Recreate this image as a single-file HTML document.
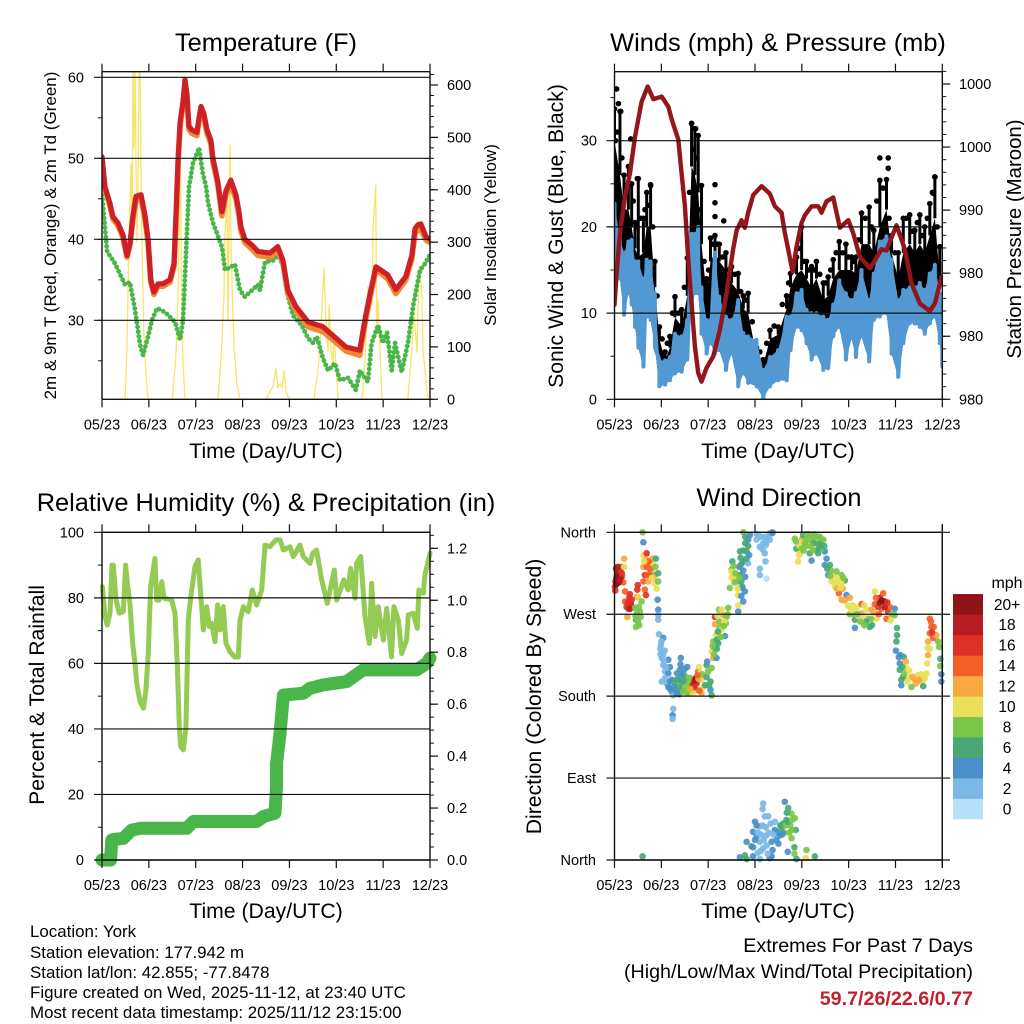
<!DOCTYPE html>
<html lang="en">
<head>
<meta charset="utf-8">
<title>York station chart</title>
<style>
html,body{margin:0;padding:0;background:#fff}
svg{display:block}
text{font-family:"Liberation Sans",Arial,sans-serif;fill:#000}
.title{font-size:25.4px;text-anchor:middle}
.axt{font-size:21.2px;text-anchor:middle}
.axs{font-size:17px;text-anchor:middle}
.tick{font-size:14.5px}
.info{font-size:16.9px}
.ext{font-size:19.7px;text-anchor:end}
</style>
</head>
<body>
<svg id="chart" xmlns="http://www.w3.org/2000/svg" width="1024" height="1024" viewBox="0 0 1024 1024">
<defs>
<clipPath id="clip-a"><rect x="102" y="71.7" width="328" height="327.6"/></clipPath>
<clipPath id="clip-b"><rect x="614.5" y="71.7" width="327.8" height="327.6"/></clipPath>
<clipPath id="clip-c"><rect x="86" y="532.3" width="360" height="342"/></clipPath>
<clipPath id="clip-d"><rect x="608" y="526" width="341" height="340"/></clipPath>
</defs>
<g id="panel-temp"></g>
<g id="panel-wind"></g>
<g id="panel-rh"></g>
<g id="panel-dir"></g>
<g id="colorbar"></g>

<text class="title" x="266" y="51">Temperature (F)</text>
<text class="title" x="778" y="51">Winds (mph) &amp; Pressure (mb)</text>
<text class="title" x="266" y="511">Relative Humidity (%) &amp; Precipitation (in)</text>
<text class="title" x="779" y="506">Wind Direction</text>

<text class="axt" x="266" y="458">Time (Day/UTC)</text>
<text class="axt" x="778" y="458">Time (Day/UTC)</text>
<text class="axt" x="266" y="918">Time (Day/UTC)</text>
<text class="axt" x="778" y="918">Time (Day/UTC)</text>

<text class="axs" transform="translate(56 235.5) rotate(-90)">2m &amp; 9m T (Red, Orange) &amp; 2m Td (Green)</text>
<text class="axs" transform="translate(496 235) rotate(-90)">Solar Insolation (Yellow)</text>
<text class="axt" transform="translate(563 236) rotate(-90)">Sonic Wind &amp; Gust (Blue, Black)</text>
<text class="axt" style="font-size:20.4px" transform="translate(1021 239) rotate(-90)">Station Pressure (Maroon)</text>
<text class="axt" transform="translate(44 695) rotate(-90)">Percent &amp; Total Rainfall</text>
<text class="axt" transform="translate(541 696.5) rotate(-90)">Direction (Colored By Speed)</text>

<text class="info" x="30" y="937">Location: York</text>
<text class="info" x="30" y="958">Station elevation: 177.942 m</text>
<text class="info" x="30" y="978">Station lat/lon: 42.855; -77.8478</text>
<text class="info" x="30" y="998">Figure created on Wed, 2025-11-12, at 23:40 UTC</text>
<text class="info" x="30" y="1018">Most recent data timestamp: 2025/11/12 23:15:00</text>

<text class="ext" x="973" y="952">Extremes For Past 7 Days</text>
<text class="ext" x="973" y="978">(High/Low/Max Wind/Total Precipitation)</text>
<text class="ext" x="973" y="1005" style="fill:#c4202e;font-weight:bold">59.7/26/22.6/0.77</text>
</svg>

<script>
const dayLabels = ["05/23","06/23","07/23","08/23","09/23","10/23","11/23","12/23"];

const tempHours = [0,1.5,4,5.6,8.2,10.8,12.8,14.3,15.9,17.4,20,22,23.6,25,26.6,28.7,31.2,34.8,36.9,37.9,39,40,41.5,42.5,43.5,44.5,46,48.6,49.7,50.7,52.2,53.8,55.8,56.8,57.9,59.4,61.4,63.5,66,68.6,70.1,71.2,73.2,76.8,79.9,86,90,92.7,95.2,99.3,105.5,113.2,119.8,125,132,135,137.7,140.3,142.8,146.4,150.5,155.6,158.7,160.3,161.8,163.3,166,168];
const tempRed = [50.2,46.5,44.5,42.8,42,40.5,38,39.5,43,45.3,45.5,43,40,35,33.5,34.5,34.5,35,37,43,50,54.5,57,59.7,58,54,53.5,53.2,55,56.4,55.5,53.5,52.2,50,48.8,47,43.4,46,47.3,45.5,43.5,41.5,40,39.3,38.5,38.3,39.1,37.4,33.7,31.7,29.8,29.2,27.8,26.7,26.3,30.5,33.7,36.6,36.2,35.6,33.8,35.4,38,41.3,41.8,41.9,40.3,40];
const tempOrange = [50,46.2,44.2,42.5,41.7,40.2,37.8,39.2,42.6,44.8,45,42.6,39.6,34.7,33.2,34.2,34.2,34.7,36.7,42.6,49.6,54,56.6,59.2,57.6,53.6,53.1,52.8,54.6,56,55.1,53.1,51.8,49.6,48.4,46.6,42.9,45.5,46.7,45,43,41,39.6,38.8,38,37.8,38.6,37,33.3,31.2,29.2,28.6,27.3,26.2,25.7,30,33.3,36.2,35.8,35.1,33.3,35,37.6,40.7,41.2,41.2,39.9,39.6];
const dewHours = [0,1.5,2.6,6.7,11.8,14.3,16.9,19.5,21,23.6,25.6,28.2,32.3,37.4,40,41.5,43.4,44.6,46.6,49.7,51.6,53.3,54.3,56.9,59.4,61.5,63,68.1,70.7,73.2,76.8,79.9,80.9,83.5,87.6,90.1,92.7,94.8,97.8,102.3,105.5,108.1,110,113.2,115.8,119.3,121.9,126,130,132.1,136.2,138.1,141.4,143.9,146,148.4,150.1,153.5,156.7,159.3,162.9,165.5,168];
const dewPoint = [45.5,41.5,38.5,37,34.4,34.7,31.3,27,25.7,28,30,31.5,31,29.8,27.6,30,40.3,46.5,49.4,51.3,48.2,46.5,44.5,42,40.4,39,36.2,36.9,33.7,32.9,33.7,34.4,33.7,37.2,37.4,38,36.8,33.4,30.6,29.4,27.8,27.2,28,25.3,23.8,24.7,22.6,22.9,21.4,23.8,22.4,27.2,29.4,27.2,28.5,23.8,27.2,23.6,27.2,31.7,36.2,37,38.1];
const solarHours = [0,11.8,12.8,13.8,14.9,15.4,15.9,16.4,16.9,17.4,17.9,18.4,19,19.5,20,20.5,21,21.5,22.5,23.6,35.9,37.4,38.4,38.9,39.4,40,40.5,41,41.5,42.5,59.4,61,62.5,63,63.5,64,64.5,65.6,66.1,66.6,67.6,69.1,70.7,84,86,87.6,89.1,90.1,91.2,92.2,93.2,94.2,95.8,108.6,110.6,111.7,112.7,113.7,114.7,115.8,116.3,117.3,118.3,118.8,119.9,120.9,133.2,134.7,136.2,138.3,138.8,140.2,140.7,141.4,143.4,156.7,158.8,159.8,161.3,162.4,163.9,164.4,167,168];
const solarWatts = [0,0,100,300,450,300,640,480,640,450,300,400,640,640,430,300,200,120,50,0,0,60,120,200,300,490,300,150,70,0,0,80,200,320,350,400,150,485,300,220,100,30,0,0,15,25,59,22,30,22,55,15,0,0,55,100,180,250,150,90,180,100,60,130,60,0,0,75,215,180,325,409,120,190,0,0,100,170,90,254,197,94,0,0];
const tempTicks = [30,40,50,60];
const solarTicks = [0,100,200,300,400,500,600];

const windHours = [0,2.8,4.9,7.1,8.8,10.5,12.2,14.8,16.5,18.5,20.7,23,25.9,28.4,31,34.4,37.3,39.5,41.2,42.9,44.6,47.2,49.2,51.5,53.7,57.1,60,63.4,66,68.5,72.8,76.2,79.7,83.9,88.2,90.2,93.3,95.9,98.4,101,103.5,107,109.5,112.1,115.2,118.6,121.5,123.7,126.6,130.5,132.9,136,139.4,142,145.4,148,151.3,153.9,156.5,159,161.6,164.2,166.7,168];
const sonicHigh = [22.7,18.5,17,18.3,18.5,16,16,14,16.2,16,12.3,4.5,4.5,4.9,7.6,7.3,9.2,19.2,19.2,20,13,9.2,9.2,17,11.9,9.6,9.2,11.5,7.7,7.3,6.9,3.4,4.9,5.7,9.6,9.6,12.3,12.7,10.4,10,10,9.6,9.2,11,13.8,12.3,11.5,12.3,15,11.5,14.6,18.3,18.9,16.2,11.5,12.7,13,13,13.5,12.7,14.6,15.6,12.3,7.6];
const sonicLow = [16,14,9.8,12.3,11,8.4,6,3.8,9.6,9.2,6.1,1.5,1.7,2.2,3,3.2,4.6,10.7,12.3,12.3,7.6,5.3,6.5,5.3,5.7,3.4,5.3,1.5,3,1.9,1.5,0.1,1.5,2.2,2.2,5.7,8.4,8,6.5,4.6,5.3,3.4,3.6,7.3,8.4,4.6,7.1,4.9,7.3,4.4,9.2,9.6,10,5.3,2.6,6.5,8.8,8.8,8.4,7.6,8.8,9.6,6.5,3.8];
const gustHigh = [33.7,33.4,26,27,25,20.5,25.6,21,24,24.8,16,8.4,5.5,7.3,11.9,10.4,16.4,32,31.4,30.6,24.8,14,18.7,19,18,17,15.4,14.6,12,12.3,6,4.6,8,8.4,12,14.6,16.5,20,16,15.4,16,13.5,14.2,16.2,18.3,18,16.5,16.5,21.6,22.3,19.6,25.4,25.5,19,17,21,21.4,19.6,21.4,20,22.7,25.8,17.7,8];
const gustBody = [30,26,22,22,20,17.5,16.5,17,20,20,13,7,4.5,6,9.5,8.5,12,27,26,24,18,12,16,17,16,15,13.5,12.5,10.5,10,5,4,7,7.5,10.5,13,14.5,15,14,13,14,11.5,12,14,15,15,15,14.5,18,18,17,20,22,17,14,17,18,17,18,17,19,21,14,7];
const gustMidHours = [1.4,3.8,6,8,9.6,11.4,13.5,15.6,17.5,19.6,21.8,24.4,27.1,29.7,32.7,35.8,38.4,40.3,42,43.7,45.9,48.2,50.3,52.6,55.4,58.5,61.7,64.7,67.2,70.6,74.5,78,81.8,86,89.2,91.7,94.6,97.1,99.7,102.2,105.2,108.2,110.8,113.6,116.9,120,122.6,125.1,128.5,131.7,134.4,137.7,140.7,143.7,146.7,149.6,152.6,155.2,157.7,160.3,162.9,165.4,167.3];
const gustMidValues = [31,28,24,25,23,20,21,22,22.5,20,12,7,6.5,10,10,13,24,29,28,22,16,15,18,18,16.5,15,14.5,12.5,11.5,9,5.5,6.5,8.5,11,13.5,15.5,17.5,16,15,15,14.5,13.5,15,17,17,16.5,16,18.5,21,20,23,24.5,21,17,19,21,19.5,20.5,19,21,24,20,11];
const gustExtraHours = [1.1,2,3.2,0.5,8.3,11.7,18.5,51.5,51.5,51.5,56,39.5,41.6,136,140.3,140.3,164.2,163.3];
const gustExtraValues = [36,34.3,33.4,30,30.2,25.6,24.9,24.9,22.8,21.2,20.7,32,31.4,28,28,26.8,25.8,23.9];
const pressureHours = [0,1.1,2.8,5.4,7.9,10.5,13.9,17,19.9,24.2,27.6,29.3,32.7,34.4,36.1,37.8,39.5,41.2,42.9,44.6,47.2,50.6,54,57.4,60.8,62.6,65.1,66.8,68.5,71.1,75.4,79.6,82.2,85.6,87.3,89,91.3,93.3,95.9,97.6,101,104.4,106.1,108.7,112.1,115.5,119.8,122.3,125.7,130.9,133.4,136.8,139.4,144.5,148.8,152.2,156.5,161.6,164.2,167.6];
const pressureValues = [982.5,985,988.2,991.1,992.9,995.8,998.6,999.8,998.8,999,998.2,997.2,995.6,992.9,990.3,986.1,982.6,979.2,977.1,976.4,977.5,978.4,980.5,983.4,986.9,988.4,989.2,988.6,989.8,991.2,991.9,991.3,990.3,989.8,988.2,986.9,985.1,987.1,989,989.6,990.3,990.3,989.8,990.7,991,988.6,989.2,988.2,986.3,985.4,986,986.9,986.8,988.8,986.9,984.2,982.6,982,982.6,984.7];
const windTicks = [0,10,20,30];
const pressureTicks = [975,980,985,990,995,1000];
const pressureTickLabels = ["980","980","980","990","1000","1000"];

const humidityHours = [0.2,1.5,2.7,4.1,5.1,5.8,7.2,8.9,10.9,12.1,13,14.3,15.7,16.9,17.8,19.5,21.2,22.5,23.7,24.9,27.1,28,29.2,30.6,31.8,35.7,37.4,38.6,39.6,40.3,41.7,43,44.2,45.4,47.6,49.3,50.5,51.9,53.6,55,56.2,57.9,59.2,60.4,62.1,63.5,65.5,68.1,69.8,70.7,72.4,74.9,77,79.2,81.8,83.5,86,89.1,91.2,92.9,96.3,98,101.4,103.1,106.5,107.9,109.9,112.5,115.4,116.8,119,120.2,123.9,126.1,127.3,129.6,130.4,132.5,134.7,136.9,138.1,139.8,141.5,144.1,145.8,148.3,149.5,151.8,153.5,156,156.9,159.4,161.5,162.3,164.6,165.4,168];
const humidityValues = [83.4,74.3,71.7,75.3,90,90,79.3,75.3,75.8,90,84.4,78.3,66.1,60,53.9,48.3,46.3,51.9,63,83.4,92,79.3,79.3,84.9,79.9,79.3,75.3,59,40.7,34.6,33.6,40.7,73.2,79.9,89.5,91.6,81.4,70.2,77.3,71.2,72.2,66.6,77.8,70.2,77.3,66.1,63.6,61.9,62,73.2,77.3,75.8,82.4,77.8,82.4,96.1,95.6,97.7,97.7,94.6,95.6,92.6,96.1,92.6,90.5,93.6,94.6,85.5,78.3,82.4,88.5,79.3,85.5,82.4,89,79.9,90.5,92.6,74.3,66.1,84.4,68.2,77.3,67.1,76.8,62,77.3,73.2,63,67.1,74.8,75.3,70.7,82.4,81.4,87,93.6];
const rainHours = [0,4.4,5,6.7,10.9,11.8,15.2,19.5,43.4,46.8,79.2,82.6,88.6,89.4,89.41,91.2,92.9,103.1,106.5,113.3,125.3,133.8,161.1,166.3,168];
const rainInches = [0,0,0.077,0.08,0.083,0.09,0.115,0.122,0.122,0.148,0.148,0.167,0.18,0.282,0.372,0.488,0.635,0.642,0.661,0.674,0.687,0.732,0.732,0.757,0.777];
const humidityTicks = [0,20,40,60,80,100];
const rainTicks = [0,0.2,0.4,0.6,0.8,1,1.2];

const directionTicks = [0,90,180,270,360];
const directionLabels = ["North","East","South","West","North"];
const dirHours = [
0.2,0.5,1,1.5,2,2.5,3,3.5,4,4.5,
0.4,0.9,1.3,1.8,2.2,2.7,3.2,3.7,0.8,1.6,
4.9,4.9,5.4,5.4,6.2,7.6,8.3,9.1,6.6,6.8,
7.2,8,8.8,7.9,10.5,11.7,11.7,11.9,12.2,13,
12.2,13.4,11,12.7,11,13.9,12,11.5,12.5,10.8,
14.4,14.8,14.8,16.5,19.5,14.8,18.2,15.6,18.2,14.8,
20.7,20.7,15.6,16.1,22.4,21.6,16.5,19,17.3,19.9,
22.4,16,17.5,18,20,21,16.8,15.2,21.2,19.2,
22.1,22.4,22.4,22.4,22.8,25,23.8,24.2,24.2,25,
27.6,25.9,24.2,27.6,29.3,26.7,29.3,27.6,30.1,24,
23.5,24.8,25.4,23.6,25.8,26,28.4,28.5,26.2,28.5,
30.1,29.8,29.8,34,33.5,37.3,31.8,34.4,31,34.4,
36.7,32.7,36.2,38.3,33.8,32,30.8,33,35.3,36,
37.5,33.2,35.4,35,30.5,32,37,39,34.2,38.8,
41.2,40,42.1,42.9,43.4,39.5,42.1,44.6,44.6,45.5,
40.8,41.8,41,43,43.8,40.2,43.5,45,38.8,42.5,
47.2,47.2,49.2,49.2,49.8,48,49.8,47.5,46.5,48.5,
50.6,49.8,52.3,51.5,53.2,52,56.6,51.5,51.5,55.4,
54,55.7,57.4,58.3,54.8,50.6,57.1,53,52.5,51,
53.7,56.2,52.8,54.6,56,58,52.5,50.3,53.6,55,
59.1,60,60,60.4,60,63.4,63.4,66,63.4,64.3,
65.6,64.3,67,66,64.3,68.5,67.7,67,68.5,66,
69.4,67.7,62.9,63.9,61,61.5,65,66,66,65,
63,61,65,68.5,69,67,64,62,66.8,64.6,
73.7,77,79.6,80.8,74.5,77.6,79.6,77,77.4,74.5,
74.5,77.9,72.8,76.2,75,78.5,73,76,78,81,
92.4,93.2,94.1,95,96.2,96.7,98.4,100.1,101,99.3,
101.9,103.6,103.6,103.5,104.4,107,105.2,107.8,94.6,94.8,
95.5,97.5,97,98.5,100,99.5,102,102.5,104.5,106,
106,101.5,93,96,105,107.5,100.5,103,98,104.8,
108.7,107.8,110.4,109.5,112,113.8,116.3,118,111.2,114.6,
116.3,115,116.3,118.9,111,112.5,114,115.5,117.2,113,
109,110.5,114,117,118,115.8,120.6,119.8,120.6,123.2,
123.2,126.6,126.6,124,129.1,130.8,130,133.4,133.4,134.3,
136,137.7,138.5,140.2,136.8,141.1,139.4,143.6,143.6,131.7,
135.1,122,122.5,125,127.5,128,131.5,133,136,137,
138.5,139.8,135.5,121.5,124.5,129,132,134,142,141.5,
128,126,144.8,144.8,144.5,144.2,145.7,148.3,146.2,146.2,
147,147,149.3,149.6,147.9,151.3,152.2,153.9,155.6,158.2,
158.2,156.5,159.9,160.2,160.7,161.6,162.4,163.6,161.6,163.3,
160.7,161.6,165.8,166.4,165,167,167,167.5,167.5,147.5,
148.5,150.2,151,152.8,154.5,156,157,159,146.5,162.8,
162.2,160.5,14.4,64.3,66.8,67.7,71,67.7,70.2,72,
71,72.8,74.5,76.2,75.9,77,78.8,74.5,76.2,77.9,
80.5,81,80.5,82.2,82.2,84.7,87.3,89,86.5,85.6,
88.1,90.7,92.4,90.1,90.7,92.9,88.8,92.2,92.2,93.3,
98.4,98,102.7,83,74.5,79.6,71,72,73.5,75,
76,77.5,79,75,78,72.8,83.5,85,86.7,87.8,
89,89.5,91,91,88.3,86,80,81.5,76.5,78.5,
73.5,84];
const dirDegrees = [
300,306,310,315,308,312,318,322,312,305,
296,303,304,311,305,307,310,315,320,322,
331,322,295,284,278,289,282,278,267,283,
276,276,286,292,277,289,297,302,289,273,
269,267,256,258,264,284,262,271,278,268,
360,349,335,337,331,322,326,313,314,306,
313,304,297,291,315,298,322,319,306,324,
306,330,328,320,310,322,313,328,331,310,
286,275,269,264,248,244,236,229,222,214,
220,207,196,205,198,194,185,190,181,240,
232,225,218,226,230,200,212,196,212,188,
166,159,155,222,209,212,198,194,187,187,
201,190,190,183,215,205,195,198,204,210,
196,182,197,185,190,183,184,191,203,200,
198,192,194,207,212,187,187,198,183,190,
195,200,190,199,205,183,186,204,188,203,
214,201,196,187,181,207,211,218,192,192,
222,229,222,233,238,247,246,259,267,260,
255,269,267,277,253,240,260,251,242,226,
262,262,268,245,257,270,232,235,275,275,
299,310,319,328,317,273,280,284,291,299,
300,313,311,328,339,326,339,348,352,360,
357,331,306,322,312,305,306,318,340,325,
298,323,290,345,335,355,310,315,295,332,
357,355,359,359,344,346,352,337,328,320,
313,309,352,348,355,355,358,341,350,360,
353,342,328,337,353,357,352,337,329,345,
355,348,341,346,337,352,355,339,335,345,
348,348,340,358,352,358,348,358,355,350,
342,340,350,342,347,345,345,355,345,343,
331,324,324,313,313,317,313,307,306,302,
304,293,286,291,318,305,310,305,310,300,
320,312,298,298,285,299,288,279,270,255,
264,281,271,277,275,256,265,295,281,265,
288,293,284,273,276,278,265,276,269,275,
278,280,270,268,268,280,265,272,283,285,
278,283,270,275,270,262,258,288,270,263,
258,262,255,247,240,230,223,223,216,209,
198,192,218,211,201,201,190,198,203,198,
191,199,205,216,225,265,256,256,249,244,
240,232,240,234,247,221,213,204,196,212,
205,196,208,201,194,197,204,200,225,250,
262,233,4,3,5,1,4,20,15,42,
31,26,37,62,56,48,48,20,13,27,
20,11,4,42,33,27,64,57,40,35,
44,51,46,38,24,33,9,14,7,1,
11,2,4,22,1,2,14,22,30,28,
38,36,30,10,16,38,30,38,30,38,
42,30,44,33,52,28,40,28,22,7,
8,18];
const dirSpeed = [
17,19,20,20,20,19,17,16,15,14,
16,20,20,20,20,18,18,16,18,19,
12,10,14,15,16,17,18,16,12,16,
17,18,16,16,8,14,16,16,10,8,
10,9,8,8,7,9,8,9,9,8,
8,4,10,16,12,12,15,16,17,14,
8,10,14,16,7,10,14,13,12,10,
8,13,15,14,12,9,14,10,7,11,
4,4,3,2,2,4,2,2,2,2,
4,3,2,4,4,3,4,4,3,2,
2,2,2,2,2,3,4,4,2,4,
2,4,3,4,5,4,6,6,5,4,
8,6,8,8,4,5,6,6,6,5,
8,6,7,8,4,5,8,9,5,9,
19,17,17,14,10,14,12,10,12,10,
18,20,17,12,10,10,14,8,12,14,
7,7,6,4,6,8,8,5,7,6,
12,10,4,7,6,10,4,12,17,12,
9,12,9,8,10,8,8,6,7,8,
8,11,10,8,8,9,6,8,9,11,
8,10,9,6,10,4,10,4,10,9,
4,6,4,5,6,3,6,7,5,9,
4,6,8,5,10,9,6,5,6,6,
10,8,5,6,4,6,9,9,4,6,
2,2,2,4,2,3,2,2,3,2,
2,0,2,2,2,2,2,2,2,4,
8,7,10,10,12,7,9,6,4,10,
8,8,6,10,6,8,8,5,10,10,
10,8,9,8,8,8,7,8,8,8,
8,8,8,9,7,6,9,8,9,6,
4,4,6,5,10,8,8,6,10,10,
10,14,12,4,8,10,10,10,8,10,
6,8,12,12,12,10,12,10,8,4,
7,14,12,10,10,6,8,10,14,10,
18,15,18,17,15,14,14,5,8,12,
16,10,8,10,10,10,8,12,20,20,
18,16,14,10,8,7,6,14,9,10,
8,9,6,6,6,4,4,7,5,6,
6,4,12,10,7,10,8,12,10,10,
7,12,10,10,12,14,14,14,14,15,
12,10,9,8,12,6,8,4,4,6,
8,10,10,12,12,12,10,10,4,16,
14,10,6,4,7,6,4,4,6,4,
4,4,2,2,2,2,2,2,2,2,
4,4,4,3,4,4,4,6,6,6,
6,8,8,8,8,6,4,6,8,6,
8,10,6,4,2,4,4,4,2,2,
2,2,2,2,2,4,4,6,6,8,
6,8,8,8,6,4,3,3,2,2,
2,4];

const speedColors = ["#b5e2f9","#7ab8e5","#4a8fc8","#48a875","#7bc549","#e8e058","#f9a842","#f36027","#dd3128","#b81b22","#8f1418"];
const speedLabels = ["0","2","4","6","8","10","12","14","16","18","20+"];

const SVGNS = "http://www.w3.org/2000/svg";
function mk(parent, tag, attrs, txt){
  const el = document.createElementNS(SVGNS, tag);
  for (const k in attrs) el.setAttribute(k, attrs[k]);
  if (txt !== undefined) el.textContent = txt;
  parent.appendChild(el);
  return el;
}
function scale(d0, d1, r0, r1){ return v => r0 + (v - d0) * (r1 - r0) / (d1 - d0); }
function pathFrom(xs, ys, fx, fy){
  return xs.map((h, i) => (i ? "L" : "M") + fx(h).toFixed(2) + " " + fy(ys[i]).toFixed(2)).join(" ");
}

const BLK = "#111";
function tickLine(g, x1, y1, x2, y2, w, name){
  const el = mk(g, "line", {x1, y1, x2, y2, stroke: BLK, "stroke-width": w});
  
  
  return el;
}
function label(g, x, y, anchor, txt, name){
  const el = mk(g, "text", {x, y, "text-anchor": anchor, class: "tick"}, txt);
  
  
  return el;
}
function frame(g, L, R, T, B, fx){
  tickLine(g, L, T, R, T, 1.4, 'frame-top');
  tickLine(g, L, B, R, B, 1.4, 'frame-bottom');
  tickLine(g, L, T, L, B, 1.4, 'frame-left');
  tickLine(g, R, T, R, B, 1.4, 'frame-right');
  dayLabels.forEach((t, i) => {
    const x = fx(i * 24);
    tickLine(g, x, T - 8, x, T, 1.2, 'top-x-tick');
    tickLine(g, x, B, x, B + 8, 1.2, 'bottom-x-tick');
    label(g, x, B + 30, "middle", t, 'x-tick-label');
  });
}
function gridLeft(g, ticks, fy, L, R, labels, lx){
  ticks.forEach((v, i) => {
    const y = fy(v);
    tickLine(g, L - 8, y, R, y, 1.2, 'grid-line');
    label(g, lx, y + 5, "end", labels ? labels[i] : String(v), 'left-tick-label');
  });
}
function minorLeft(g, lo, hi, step, fy, L){
  for (let v = lo; v <= hi + 1e-6; v += step) tickLine(g, L - 4, fy(v), L, fy(v), 1, 'left-minor-tick');
}
function rightAxis(g, ticks, fy, R, labels, lx, lo, hi, step){
  for (let v = lo; v <= hi + 1e-6; v += step) tickLine(g, R, fy(v), R + 4, fy(v), 1, 'right-minor-tick');
  ticks.forEach((v, i) => {
    tickLine(g, R, fy(v), R + 8, fy(v), 1.2, 'right-major-tick');
    label(g, lx, fy(v) + 5, "start", labels ? labels[i] : String(v), 'right-tick-label');
  });
}

/* ---- Temperature panel ---- */
(function(){
  const g = document.getElementById("panel-temp");
  const fx = scale(0, 168, 102, 430), fy = scale(50, 40, 158.3, 239.3), fs = scale(0, 600, 399.3, 85);
  const clip = mk(g, "g", {"clip-path": "url(#clip-a)"});
  let el = mk(clip, "path", {d: pathFrom(solarHours, solarWatts, fx, fs), fill: "none", stroke: "#f8df4f", "stroke-width": 1.3, "stroke-opacity": .85, "stroke-linejoin": "round"});
  
  
  el = mk(clip, "path", {d: pathFrom(dewHours, dewPoint, fx, fy), fill: "none", stroke: "#4ab649", "stroke-width": 4.8, "stroke-linecap": "round", "stroke-dasharray": "0.1 4.6"});
  
  
  el = mk(clip, "path", {d: pathFrom(tempHours, tempOrange, fx, fy), fill: "none", stroke: "#f08a30", "stroke-width": 5.6, "stroke-linejoin": "round", "stroke-linecap": "round"});
  
  
  el = mk(clip, "path", {d: pathFrom(tempHours, tempRed, fx, fy), fill: "none", stroke: "#cf2027", "stroke-width": 5.2, "stroke-linejoin": "round", "stroke-linecap": "round"});
  
  
  gridLeft(g, tempTicks, fy, 102, 430, null, 84);
  minorLeft(g, 25, 55, 5, fy, 102);
  rightAxis(g, solarTicks, fs, 430, null, 447, 0, 620, 20);
  frame(g, 102, 430, 71.7, 399.3, fx);
})();

/* ---- Winds panel ---- */
(function(){
  const g = document.getElementById("panel-wind");
  const fx = scale(0, 168, 614.5, 942.3), fy = scale(0, 30, 399.3, 140.7), fp = scale(975, 1000, 399.3, 84);
  const clip = mk(g, "g", {"clip-path": "url(#clip-b)"});
  const up = windHours.map((h, i) => fx(h).toFixed(2) + "," + fy(gustBody[i]).toFixed(2));
  const dn = windHours.map((h, i) => fx(h).toFixed(2) + "," + fy(sonicLow[i]).toFixed(2)).reverse();
  let el = mk(clip, "polygon", {points: up.concat(dn).join(" "), fill: "#000"});
  
  
  windHours.forEach((h, i) => {
    const dot = mk(clip, "circle", {cx: fx(h), cy: fy(gustHigh[i]), r: 2.8, fill: "#000"});
    
    
    const body = mk(clip, "line", {x1: fx(h), x2: fx(h), y1: fy(gustHigh[i]), y2: fy(gustBody[i]), stroke: "#000", "stroke-width": 3});
    
    
  });
  gustMidHours.forEach((h, i) => {
    const dot = mk(clip, "circle", {cx: fx(h), cy: fy(gustMidValues[i]), r: 2.8, fill: "#000"});
    
    
  });
  gustExtraHours.forEach((h, i) => {
    const dot = mk(clip, "circle", {cx: fx(h), cy: fy(gustExtraValues[i]), r: 2.8, fill: "#000"});
    
    
  });
  const bandUp = windHours.map((h, i) => fx(h).toFixed(2) + "," + fy(sonicHigh[i]).toFixed(2));
  const bandDn = windHours.map((h, i) => fx(h).toFixed(2) + "," + fy(sonicLow[i]).toFixed(2)).reverse();
  el = mk(clip, "polygon", {points: bandUp.concat(bandDn).join(" "), fill: "#5299d3"});
  
  
  let d = "";
  windHours.forEach((h, i) => {
    d += (i ? "L" : "M") + fx(h).toFixed(2) + " " + fy(sonicHigh[i]).toFixed(2) + " L" + fx(h).toFixed(2) + " " + fy(sonicLow[i]).toFixed(2) + " ";
  });
  el = mk(clip, "path", {d, fill: "none", stroke: "#5299d3", "stroke-width": 4, "stroke-linejoin": "round", "stroke-linecap": "round"});
  
  
  el = mk(clip, "path", {d: pathFrom(pressureHours, pressureValues, fx, fp), fill: "none", stroke: "#94161b", "stroke-width": 4.4, "stroke-linejoin": "round", "stroke-linecap": "round"});
  
  
  gridLeft(g, windTicks, fy, 614.5, 942.3, null, 597);
  minorLeft(g, 5, 35, 10, fy, 614.5);
  rightAxis(g, pressureTicks, fp, 942.3, pressureTickLabels, 959, 975, 1001, 1);
  frame(g, 614.5, 942.3, 71.7, 399.3, fx);
})();

/* ---- Humidity panel ---- */
(function(){
  const g = document.getElementById("panel-rh");
  const fx = scale(0, 168, 102, 430), fy = scale(0, 100, 860, 532.3), fr = scale(0, 1.2, 860, 548.3);
  const clip = mk(g, "g", {"clip-path": "url(#clip-c)"});
  let el = mk(clip, "path", {d: pathFrom(humidityHours, humidityValues, fx, fy), fill: "none", stroke: "#93cb55", "stroke-width": 5, "stroke-linejoin": "round", "stroke-linecap": "round"});
  
  
  el = mk(clip, "path", {d: pathFrom(rainHours, rainInches, fx, fr), fill: "none", stroke: "#4ab649", "stroke-width": 13, "stroke-linejoin": "round", "stroke-linecap": "round"});
  
  
  gridLeft(g, humidityTicks, fy, 102, 430, null, 84);
  minorLeft(g, 10, 90, 20, fy, 102);
  rightAxis(g, rainTicks, fr, 430, rainTicks.map(v => v.toFixed(1)), 447, 0, 1.25, 0.05);
  frame(g, 102, 430, 532.3, 860, fx);
})();

/* ---- Wind direction panel ---- */
(function(){
  const g = document.getElementById("panel-dir");
  const fx = scale(0, 168, 614.5, 942.3), fy = scale(0, 360, 860, 532.3);
  const clip = mk(g, "g", {"clip-path": "url(#clip-d)"});
  dirHours.forEach((h, i) => {
    const idx = Math.min(speedColors.length - 1, Math.floor(dirSpeed[i] / 2));
    const dot = mk(clip, "circle", {cx: fx(h).toFixed(2), cy: fy(dirDegrees[i]).toFixed(2), r: 3.3, fill: speedColors[idx], "fill-opacity": .92});
    
    
  });
  gridLeft(g, directionTicks, fy, 614.5, 950, directionLabels, 596);
  tickLine(g, 942.3, 524, 942.3, 868, 1.4, 'frame-right-extension');
  frame(g, 614.5, 942.3, 532.3, 860, fx);
})();

/* ---- Colour bar ---- */
(function(){
  const g = document.getElementById("colorbar");
  const h = 20.45, bottom = 819;
  speedColors.forEach((c, i) => {
    const y = bottom - (i + 1) * h;
    const box = mk(g, "rect", {x: 953, y: y.toFixed(2), width: 30, height: (h + .3).toFixed(2), fill: c});
    
    
    const t = mk(g, "text", {x: 1007, y: (y + h / 2 + 5.5).toFixed(2), "text-anchor": "middle", style: "font-size:15.5px"}, speedLabels[i]);
    
    
  });
  const unit = mk(g, "text", {x: 1007, y: 588, "text-anchor": "middle", style: "font-size:16px"}, "mph");
  
  
})();
</script>
</body>
</html>
